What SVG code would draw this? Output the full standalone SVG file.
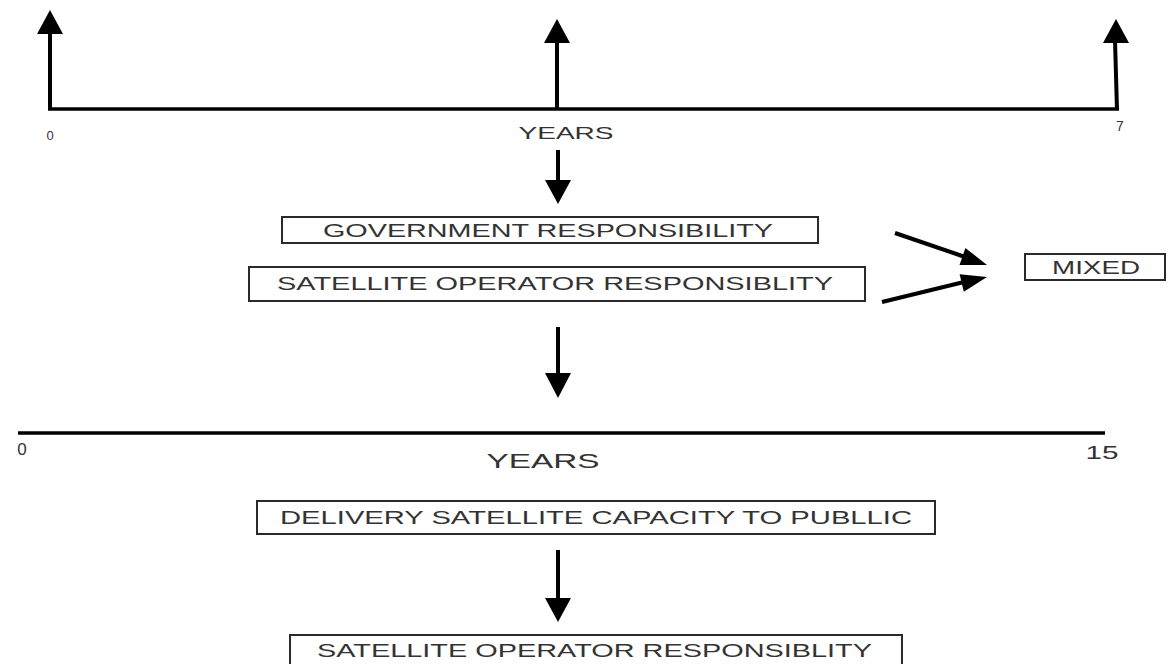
<svg xmlns="http://www.w3.org/2000/svg" width="1167" height="664" viewBox="0 0 1167 664">
<style>
.t{font-family:"Liberation Sans",Arial,sans-serif;fill:#333;}
.box{fill:#fff;stroke:#2a2a2a;stroke-width:2;}
.ln{stroke:#000;stroke-width:4;fill:none;}
.ax{stroke:#000;stroke-width:3.5;fill:none;}
.hd{fill:#000;}
</style>
<rect width="1167" height="664" fill="#fff"/>
<g id="connectors">
  <line class="ax" x1="48" y1="109" x2="1119" y2="109"/>
  <line class="ln" x1="50" y1="110" x2="50" y2="30"/>
  <polygon class="hd" points="50,10 37,34 63,34"/>
  <line class="ln" x1="557" y1="109" x2="557" y2="40"/>
  <polygon class="hd" points="557,19 544,43 570,43"/>
  <line class="ln" x1="1117" y1="110" x2="1115" y2="40"/>
  <polygon class="hd" points="1116,19 1103,43 1129,43"/>
  <line class="ln" x1="558" y1="150" x2="558" y2="182"/>
  <polygon class="hd" points="545,180 571,180 558,204"/>
  <line class="ln" x1="895" y1="233" x2="965" y2="257"/>
  <polygon class="hd" points="987,265 959.5,264.9 965.4,247.9"/>
  <line class="ln" x1="882" y1="302" x2="964" y2="282"/>
  <polygon class="hd" points="987,277 963.8,291.8 959.6,274.2"/>
  <line class="ln" x1="558" y1="327" x2="558" y2="375"/>
  <polygon class="hd" points="545,373 571,373 558,398"/>
  <line class="ax" x1="18" y1="433" x2="1105" y2="433"/>
  <line class="ln" x1="558" y1="550" x2="558" y2="600"/>
  <polygon class="hd" points="545,598 571,598 558,622"/>
</g>
<g id="axis-labels">
  <text class="t" x="50" y="140" font-size="13" text-anchor="middle">0</text>
  <text class="t" x="566" y="139" font-size="17" textLength="95" lengthAdjust="spacingAndGlyphs" text-anchor="middle">YEARS</text>
  <text class="t" x="1120" y="131" font-size="14" text-anchor="middle">7</text>
  <text class="t" x="22" y="455" font-size="17" text-anchor="middle">0</text>
  <text class="t" x="543" y="468" font-size="21" textLength="113" lengthAdjust="spacingAndGlyphs" text-anchor="middle">YEARS</text>
  <text class="t" x="1102" y="459" font-size="19" textLength="33" lengthAdjust="spacingAndGlyphs" text-anchor="middle">15</text>
</g>
<g id="gov">
  <rect class="box" x="282" y="217" width="536" height="26"/>
  <text class="t" x="323" y="236.5" font-size="18" textLength="450" lengthAdjust="spacingAndGlyphs">GOVERNMENT RESPONSIBILITY</text>
</g>
<g id="sat-op">
  <rect class="box" x="249" y="267" width="616" height="34"/>
  <text class="t" x="277" y="290" font-size="18" textLength="556" lengthAdjust="spacingAndGlyphs">SATELLITE OPERATOR RESPONSIBLITY</text>
</g>
<g id="mixed">
  <rect class="box" x="1025" y="254" width="140" height="26"/>
  <text class="t" x="1052" y="273.5" font-size="18" textLength="88" lengthAdjust="spacingAndGlyphs">MIXED</text>
</g>
<g id="delivery">
  <rect class="box" x="257" y="501" width="678" height="33"/>
  <text class="t" x="280" y="524" font-size="18" textLength="632" lengthAdjust="spacingAndGlyphs">DELIVERY SATELLITE CAPACITY TO PUBLLIC</text>
</g>
<g id="sat-op-2">
  <rect class="box" x="290" y="635" width="612" height="40"/>
  <text class="t" x="317" y="657" font-size="18" textLength="555" lengthAdjust="spacingAndGlyphs">SATELLITE OPERATOR RESPONSIBLITY</text>
</g>
</svg>
